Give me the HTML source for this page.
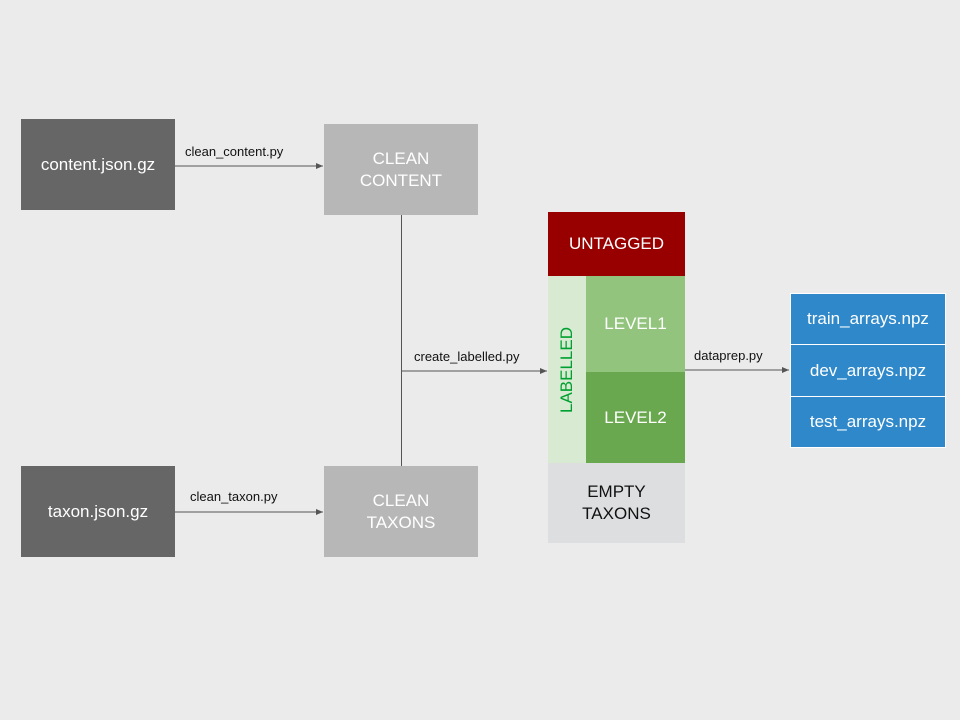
<!DOCTYPE html>
<html><head><style>
body{margin:0;width:960px;height:720px;background:#ebebeb;position:relative;overflow:hidden;font-family:"Liberation Sans",Arial,sans-serif}
.b{position:absolute;display:flex;align-items:center;justify-content:center;text-align:center;box-sizing:border-box}
.t{position:absolute;font-size:13px;color:#111}
</style></head><body>
<div class="b" style="left:21px;top:119px;width:154px;height:91px;background:#666;color:#fff;font-size:17px">content.json.gz</div>
<div class="b" style="left:324px;top:124px;width:154px;height:91px;background:#b7b7b7;color:#fff;font-size:17px;line-height:22px">CLEAN<br>CONTENT</div>
<div class="b" style="left:21px;top:466px;width:154px;height:91px;background:#666;color:#fff;font-size:17px">taxon.json.gz</div>
<div class="b" style="left:324px;top:466px;width:154px;height:91px;background:#b7b7b7;color:#fff;font-size:17px;line-height:22px">CLEAN<br>TAXONS</div>
<div class="b" style="left:548px;top:212px;width:137px;height:64px;background:#980000;color:#fff;font-size:17px">UNTAGGED</div>
<div class="b" style="left:548px;top:276px;width:38px;height:187px;background:#d9ead3"><span style="transform:rotate(-90deg);color:#00a030;font-size:17px;white-space:nowrap">LABELLED</span></div>
<div class="b" style="left:586px;top:276px;width:99px;height:96px;background:#93c47d;color:#fff;font-size:17px">LEVEL1</div>
<div class="b" style="left:586px;top:372px;width:99px;height:91px;background:#6aa84f;color:#fff;font-size:17px">LEVEL2</div>
<div class="b" style="left:548px;top:463px;width:137px;height:80px;background:#dddee0;color:#111;font-size:17px;line-height:22px">EMPTY<br>TAXONS</div>
<div class="b" style="left:790px;top:293px;width:156px;height:52px;background:#2e88c9;border:1px solid #fff;color:#fff;font-size:17px">train_arrays.npz</div>
<div class="b" style="left:790px;top:344px;width:156px;height:53px;background:#2e88c9;border:1px solid #fff;color:#fff;font-size:17px">dev_arrays.npz</div>
<div class="b" style="left:790px;top:396px;width:156px;height:52px;background:#2e88c9;border:1px solid #fff;color:#fff;font-size:17px">test_arrays.npz</div>
<svg width="960" height="720" style="position:absolute;left:0;top:0">
<defs><marker id="a" markerWidth="8" markerHeight="8" refX="7" refY="4" orient="auto" markerUnits="userSpaceOnUse"><path d="M0,1 L7,4 L0,7z" fill="#555"/></marker></defs>
<g stroke="#555" stroke-width="1" fill="none">
<line x1="175" y1="166" x2="323" y2="166" marker-end="url(#a)"/>
<line x1="175" y1="512" x2="323" y2="512" marker-end="url(#a)"/>
<line x1="401.5" y1="215" x2="401.5" y2="466"/>
<line x1="401" y1="371" x2="547" y2="371" marker-end="url(#a)"/>
<line x1="685" y1="370" x2="789" y2="370" marker-end="url(#a)"/>
</g></svg>
<div class="t" style="left:185px;top:144px">clean_content.py</div>
<div class="t" style="left:190px;top:489px">clean_taxon.py</div>
<div class="t" style="left:414px;top:349px">create_labelled.py</div>
<div class="t" style="left:694px;top:348px">dataprep.py</div>
</body></html>
